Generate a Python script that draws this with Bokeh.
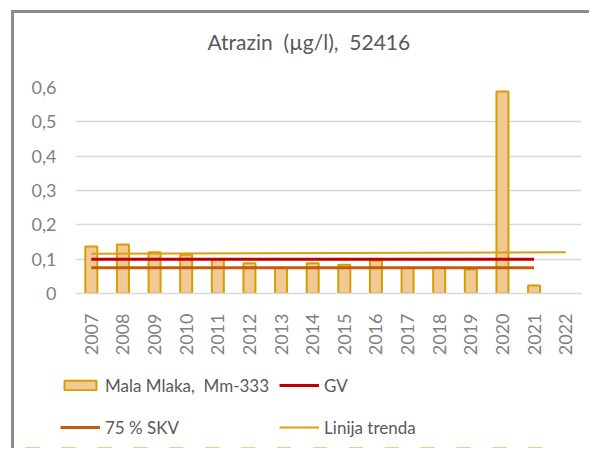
import math
from bokeh.plotting import figure
from bokeh.layouts import column
from bokeh.models import (FixedTicker, Legend, LegendItem, Title,
                          ColumnDataSource, Range1d)
from bokeh.embed import file_html
from bokeh.resources import INLINE

# ---- data ----
years = ["2007", "2008", "2009", "2010", "2011", "2012", "2013", "2014",
         "2015", "2016", "2017", "2018", "2019", "2020", "2021", "2022"]
mala_mlaka = [0.137, 0.143, 0.120, 0.113, 0.098, 0.088, 0.075, 0.088,
              0.084, 0.096, 0.075, 0.076, 0.070, 0.588, 0.023, float("nan")]
gv_value = 0.1
skv75_value = 0.075
limit_years = ["2007", "2021"]
trend_years = ["2007", "2022"]
trend_values = [0.116, 0.120]
y_ticks = [0, 0.1, 0.2, 0.3, 0.4, 0.5, 0.6]
y_tick_labels = ["0", "0,1", "0,2", "0,3", "0,4", "0,5", "0,6"]
NB = "\u00a0"
title_text = "Atrazin" + NB + " (µg/l)," + NB + " 52416"
series_name = "Mala Mlaka," + NB + " Mm-333"
gv_name = "GV"
skv_name = "75 % SKV"
trend_name = "Linija trenda"

FONT = "Lato"
GRAY = "#7f7f7f"
DARK = "#595959"
BAR_FILL, BAR_LINE = "#F2C894", "#D4A000"
GV_COLOR, SKV_COLOR, TREND_COLOR = "#C00000", "#C55A11", "#D9A10E"

idx = list(range(len(years)))
lx = [years.index(y) for y in limit_years]
tx = [years.index(y) for y in trend_years]
src = ColumnDataSource(dict(x=idx, top=mala_mlaka))

W = 575


def draw_series(fig):
    b = fig.vbar(x="x", top="top", width=0.38, source=src,
                 fill_color=BAR_FILL, line_color=BAR_LINE, line_width=2)
    g = fig.line(lx, [gv_value, gv_value], line_color=GV_COLOR, line_width=3)
    s = fig.line(lx, [skv75_value, skv75_value], line_color=SKV_COLOR, line_width=3)
    t = fig.line(tx, trend_values, line_color=TREND_COLOR, line_width=2)
    return b, g, s, t


def bare(fig):
    fig.grid.visible = False
    fig.outline_line_color = None
    fig.background_fill_color = "white"
    fig.border_fill_color = "white"


# ---- title strip ----
tp = figure(width=W, height=60, output_backend="svg", toolbar_location=None,
            x_range=Range1d(0, 1), y_range=Range1d(0, 1),
            x_axis_location=None, y_axis_location=None,
            min_border_left=61, min_border_right=8, min_border_top=0,
            min_border_bottom=0)
bare(tp)
tp.add_layout(Title(text=title_text, align="left", offset=132, standoff=26,
                    text_font=FONT, text_font_size="21px", text_color=DARK,
                    text_font_style="normal"), "above")

# ---- main chart ----
p = figure(width=W, height=287, output_backend="svg", toolbar_location=None,
           x_range=Range1d(-0.5, len(years) - 0.5), y_range=Range1d(0, 0.6),
           min_border_left=61, min_border_right=8, min_border_top=14,
           min_border_bottom=67)
p.outline_line_color = None
p.background_fill_color = "white"
p.border_fill_color = "white"
draw_series(p)

p.xgrid.visible = False
p.ygrid.grid_line_color = "#D9D9D9"
p.ygrid.grid_line_width = 1.5
p.ygrid.ticker = FixedTicker(ticks=y_ticks)

p.yaxis.ticker = FixedTicker(ticks=y_ticks)
p.yaxis.major_label_overrides = {t: l for t, l in zip(y_ticks, y_tick_labels)}
p.yaxis.axis_line_color = None
p.yaxis.major_tick_line_color = None
p.yaxis.minor_tick_line_color = None
p.yaxis.major_tick_out = 0
p.yaxis.major_label_standoff = 19
p.yaxis.major_label_text_font = FONT
p.yaxis.major_label_text_font_size = "18px"
p.yaxis.major_label_text_color = GRAY

p.xaxis.ticker = FixedTicker(ticks=idx)
p.xaxis.major_label_overrides = {i: y for i, y in zip(idx, years)}
p.xaxis.major_label_orientation = math.pi / 2
p.xaxis.axis_line_color = "#D9D9D9"
p.xaxis.axis_line_width = 1.5
p.xaxis.major_tick_line_color = None
p.xaxis.minor_tick_line_color = None
p.xaxis.major_label_standoff = 14
p.xaxis.major_label_text_font = FONT
p.xaxis.major_label_text_font_size = "18px"
p.xaxis.major_label_text_color = GRAY

# ---- legend strip (same series, kept far outside its view so only the legend shows) ----
lp = figure(width=W, height=88, output_backend="svg", toolbar_location=None,
            x_range=Range1d(-0.5, len(years) - 0.5), y_range=Range1d(1000, 1001),
            x_axis_location=None, y_axis_location=None,
            min_border_left=0, min_border_right=0, min_border_top=0,
            min_border_bottom=0)
bare(lp)
legend_x = 46
try:
    lp.frame_align = False
except Exception:
    legend_x = -15
l_bar, l_gv, l_skv, l_tr = draw_series(lp)

legend = Legend(items=[
    LegendItem(label=series_name, renderers=[l_bar]),
    LegendItem(label=skv_name, renderers=[l_skv]),
    LegendItem(label=gv_name, renderers=[l_gv]),
    LegendItem(label=trend_name, renderers=[l_tr]),
], ncols=2, location=(legend_x, 5), glyph_width=40, glyph_height=12,
    label_height=32, label_standoff=5, spacing=10, padding=0, margin=0,
    border_line_color=None, background_fill_alpha=0,
    label_text_font=FONT, label_text_font_size="17px", label_text_color=DARK)
lp.add_layout(legend)

layout = column(tp, p, lp, spacing=0,
                styles={"margin-left": "11px", "margin-top": "10px",
                        "border-left": "3px solid #8c8c8c",
                        "border-top": "3px solid #8c8c8c"})

open("out.html", "w").write(file_html(layout, INLINE))
